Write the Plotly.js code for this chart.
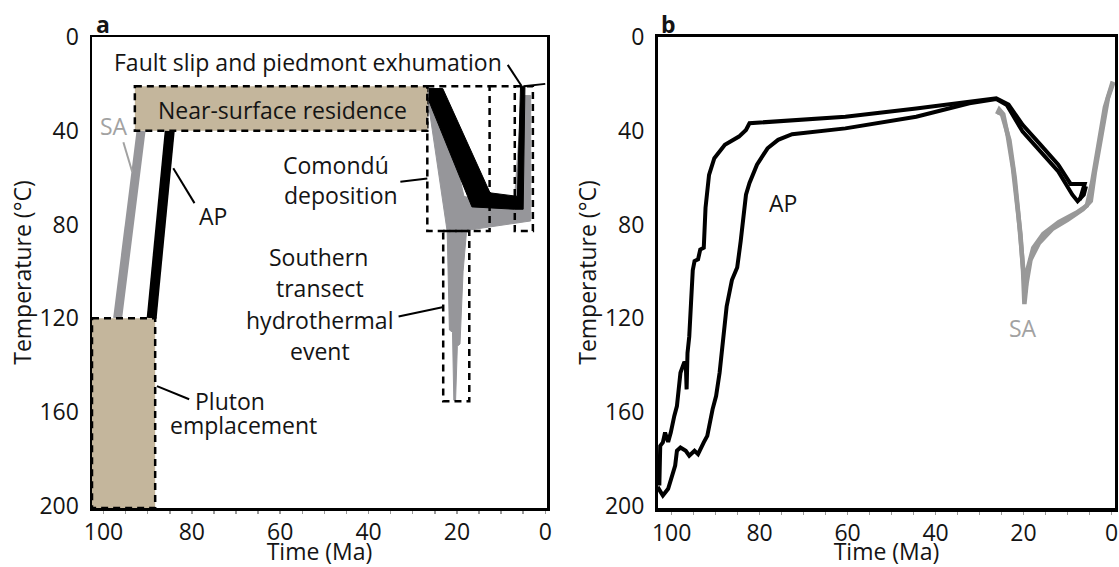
<!DOCTYPE html>
<html>
<head>
<meta charset="utf-8">
<script src="https://cdn.plot.ly/plotly-3.0.1.min.js"></script>
<style>html,body{margin:0;padding:0;background:#fff;}#chart{width:1119px;height:567px;}</style>
</head>
<body>
<div id="chart"></div>
<script>
// ---------- Panel a data ----------
// Early cooling paths (Ma, °C)
const saEarlyTime = [96.8, 91.5];
const saEarlyTemp = [120, 40];
const apEarlyTime = [89.1, 85.0];
const apEarlyTemp = [120, 40];
// AP envelope after near-surface residence
const apLateTime = [26.4, 23.2, 12.5, 6.3, 5.6, 4.6, 5.0, 7.0, 16.6, 26.4];
const apLateTemp = [22, 22, 66.5, 68, 21, 21, 73.5, 73.5, 72.5, 27];
// AP final exhumation (thin)
const apFinalTime = [4.9, 0];
const apFinalTemp = [21, 20];
// SA envelope incl. hydrothermal spike
const saLateTime = [26.8, 23.5, 18.4, 16.5, 7.0, 5.3, 3.3, 3.3, 17.8, 18.6, 19.3, 19.9, 20.3, 20.7, 21.0, 21.7, 22.2, 26.8];
const saLateTemp = [24, 26, 68, 69, 70, 25, 25, 78.5, 82.5, 100, 131, 132, 155, 155, 126, 125, 83, 24];
// Interpreted boxes [older, younger] Ma, [upper, lower] °C
const residenceTime = [92.9, 26.7], residenceTemp = [21, 40];
const plutonTime = [102.6, 88.3], plutonTemp = [120, 201];
const comonduTime = [26.7, 12.6], comonduTemp = [21, 82.8];
const faultTime = [6.9, 2.8], faultTemp = [21, 82.8];
const hydroTime = [23.1, 17.2], hydroTemp = [82.8, 155.4];

// ---------- Panel b data ----------
const apB1Time = [102.8,102.6,102.0,101.5,100.8,100.2,99.4,98.8,98.0,97.2,96.8,96.6,96.4,96.0,95.6,95.2,94.8,94.0,93.5,92.7,92.3,91.5,90.3,87.9,84.7,83.1,82.3,72.0,60.5,44.4,32.3,26.2,23.4,20.2,16.1,12.1,9.3,6.1,7.2];
const apB1Temp = [191.4,174.5,173,168.8,172.8,168.8,161.7,157.5,143.3,139.1,139,150.4,134.9,127.8,113.6,99.5,95.6,94.9,90.7,89.9,72.9,58.8,51.7,46,42.5,39.7,36.8,35.5,34,30.5,27.6,26.2,28.8,37.5,46,54.5,62.7,62.7,69.5];
const apB2Time = [103.2,102.0,100.8,100.0,99.2,98.8,98.0,96.8,96.0,94.8,94.0,92.7,91.9,90.7,89.9,89.1,88.3,87.5,86.3,85.1,84.3,83.5,83.1,82.3,80.6,78.2,75.8,72.6,60.5,44.4,32.3,26.2,23.8,20.2,16.1,12.1,8.9,7.7,6.3,5.8];
const apB2Temp = [192,195.7,192.8,187.2,182.9,176.6,175.2,176.6,178.7,176.6,178,173,170.2,158.9,153.2,143.3,130.6,115,103.7,98.4,87.1,75.8,67.3,62.3,54.5,47.5,43.9,41.5,39,34,28.3,26.5,29,40.4,48.9,57.4,67.3,70.1,67.3,63.7];
const saB1Time = [26.0,25.5,24.6,23.6,22.4,21.5,20.7,20.1,19.8,19.3,18.4,16.5,13.5,10.0,6.5,4.7,3.8,2.2,0.8,-0.4];
const saB1Temp = [33,31,33,42,56,70,84,100,114,105,95,88,82,78,73.5,70,58,41,26,19.5];
const saB2Time = [25.8,24.9,23.2,22.0,21.2,20.5,20.0,19.6,19.2,17.8,15.5,12.0,8.0,5.6,4.4,3.0,1.5,-0.3];
const saB2Temp = [32,33,44,60,75,90,104,109,100,90,84,79,75,72,62,46,30,19];

// Axis ticks
const timeTicks = [100, 80, 60, 40, 20, 0];
const tempTicks = [0, 40, 80, 120, 160, 200];

const FONT = 'Open Sans, sans-serif';
const FS = 23;
const TXT = '#141414';
const GREY = '#96969a';
const SAGREY = '#a2a2a2';
const TAN = '#c4b69c';

const traces = [
  {x: saLateTime, y: saLateTemp, xaxis:'x', yaxis:'y', mode:'lines', fill:'toself', fillcolor:GREY, line:{color:GREY, width:1}, hoverinfo:'skip'},
  {x: apLateTime, y: apLateTemp, xaxis:'x', yaxis:'y', mode:'lines', fill:'toself', fillcolor:'#000', line:{color:'#000', width:1}, hoverinfo:'skip'},
  {x: apFinalTime, y: apFinalTemp, xaxis:'x', yaxis:'y', mode:'lines', line:{color:'#000', width:2}, hoverinfo:'skip'},
  {x: saEarlyTime, y: saEarlyTemp, xaxis:'x', yaxis:'y', mode:'lines', line:{color:GREY, width:9}, hoverinfo:'skip'},
  {x: apEarlyTime, y: apEarlyTemp, xaxis:'x', yaxis:'y', mode:'lines', line:{color:'#000', width:10}, hoverinfo:'skip'},
  {x: apB1Time, y: apB1Temp, xaxis:'x2', yaxis:'y2', mode:'lines', line:{color:'#000', width:4}, hoverinfo:'skip'},
  {x: apB2Time, y: apB2Temp, xaxis:'x2', yaxis:'y2', mode:'lines', line:{color:'#000', width:4}, hoverinfo:'skip'},
  {x: saB1Time, y: saB1Temp, xaxis:'x2', yaxis:'y2', mode:'lines', line:{color:'#999999', width:4.5}, hoverinfo:'skip'},
  {x: saB2Time, y: saB2Temp, xaxis:'x2', yaxis:'y2', mode:'lines', line:{color:'#999999', width:4.5}, hoverinfo:'skip'}
];

const dash = {color:'#000', width:2.5, dash:'7px,5px'};
function rect(tx, ty, fill) {
  return {type:'rect', xref:'x', yref:'y', x0:tx[0], x1:tx[1], y0:ty[0], y1:ty[1],
          line:dash, fillcolor: fill || 'rgba(0,0,0,0)', layer:'above'};
}
function leader(x0, y0, x1, y1, color) {
  return {type:'line', xref:'x', yref:'y', x0:x0, y0:y0, x1:x1, y1:y1, line:{color:color||'#000', width:2}, layer:'above'};
}
const shapes = [
  rect(comonduTime, comonduTemp),
  rect(faultTime, faultTemp),
  rect(hydroTime, hydroTemp),
  {type:'line', xref:'x', yref:'y', x0:comonduTime[1], x1:faultTime[0], y0:21, y1:21, line:dash, layer:'above'},
  rect(residenceTime, residenceTemp, TAN),
  rect(plutonTime, plutonTemp, TAN),
  leader(8.5, 11.9, 5.4, 20.8),
  leader(32.8, 61.8, 26.7, 60.4),
  leader(84.2, 56, 79.4, 70.9),
  leader(95.5, 44.9, 93.5, 57.5, SAGREY),
  leader(33.2, 119.3, 23.3, 115.3),
  leader(87.9, 149, 80.6, 154.6)
];

function ann(text, x, y, opts) {
  return Object.assign({text:text, x:x, y:y, xref:'x', yref:'y', showarrow:false,
    font:{family:FONT, size:FS, color:TXT}}, opts || {});
}
const annotations = [
  ann('Fault slip and piedmont exhumation', 53.7, 10.5),
  ann('Near-surface residence', 59.5, 31),
  ann('Comondú', 47.4, 54.7),
  ann('deposition', 46.2, 67.4),
  ann('AP', 75.3, 76.5),
  ann('SA', 97.6, 37.9, {font:{family:FONT, size:FS, color:SAGREY}}),
  ann('Southern', 51.4, 94),
  ann('transect', 51, 107.3),
  ann('hydrothermal', 51, 120.7),
  ann('event', 51, 134.2),
  ann('Pluton', 71.3, 155.2),
  ann('emplacement', 68.4, 165.4),
  ann('AP', 74.6, 70.8, {xref:'x2', yref:'y2'}),
  ann('SA', 20.2, 124.2, {xref:'x2', yref:'y2', font:{family:FONT, size:FS, color:SAGREY}}),
  {text:'<b>a</b>', xref:'paper', yref:'paper', x:0.0108, y:1.0276, xanchor:'center', yanchor:'middle', showarrow:false, font:{family:FONT, size:FS, color:TXT}},
  {text:'<b>b</b>', xref:'paper', yref:'paper', x:0.5635, y:1.0276, xanchor:'center', yanchor:'middle', showarrow:false, font:{family:FONT, size:FS, color:TXT}}
];

function xaxis(domain, range, lw) {
  return {domain:domain, range:range, autorange:false, tickvals:timeTicks, ticktext:timeTicks.map(String),
    ticks:'outside', ticklen:3, tickcolor:'#999', tickwidth:1.5,
    minor:{dtick:5, tick0:0, ticks:'outside', ticklen:3, tickcolor:'#999', tickwidth:1.5, showgrid:false},
    showline:true, linecolor:'#000', linewidth:lw, mirror:true, showgrid:false, zeroline:false,
    tickfont:{family:FONT, size:FS, color:TXT}, ticklabelstandoff:-1,
    title:{text:'Time (Ma)', font:{family:FONT, size:FS, color:TXT}, standoff:1}, fixedrange:true};
}
function yaxis(anchor, lw) {
  return {anchor:anchor, domain:[0,1], range:[201, 0], autorange:false, tickvals:tempTicks, ticktext:tempTicks.map(String),
    ticks:'', showline:true, linecolor:'#000', linewidth:lw, mirror:true, showgrid:false, zeroline:false,
    tickfont:{family:FONT, size:FS, color:TXT}, ticklabelstandoff:6,
    title:{text:'Temperature (°C)', font:{family:FONT, size:FS, color:TXT}, standoff:2}, fixedrange:true};
}

const layout = {
  width:1119, height:567,
  margin:{l:92, r:4, t:37, b:59, pad:0},
  paper_bgcolor:'#fff', plot_bgcolor:'#fff',
  showlegend:false,
  xaxis: Object.assign(xaxis([0, 0.4448], [102.6, -0.4], 2.5), {anchor:'y'}),
  yaxis: yaxis('x', 2.5),
  xaxis2: Object.assign(xaxis([0.5533, 1], [103.1, -0.8], 3.5), {anchor:'y2'}),
  yaxis2: yaxis('x2', 3),
  shapes: shapes,
  annotations: annotations
};

Plotly.newPlot('chart', traces, layout, {staticPlot:true, displayModeBar:false});
</script>
</body>
</html>
